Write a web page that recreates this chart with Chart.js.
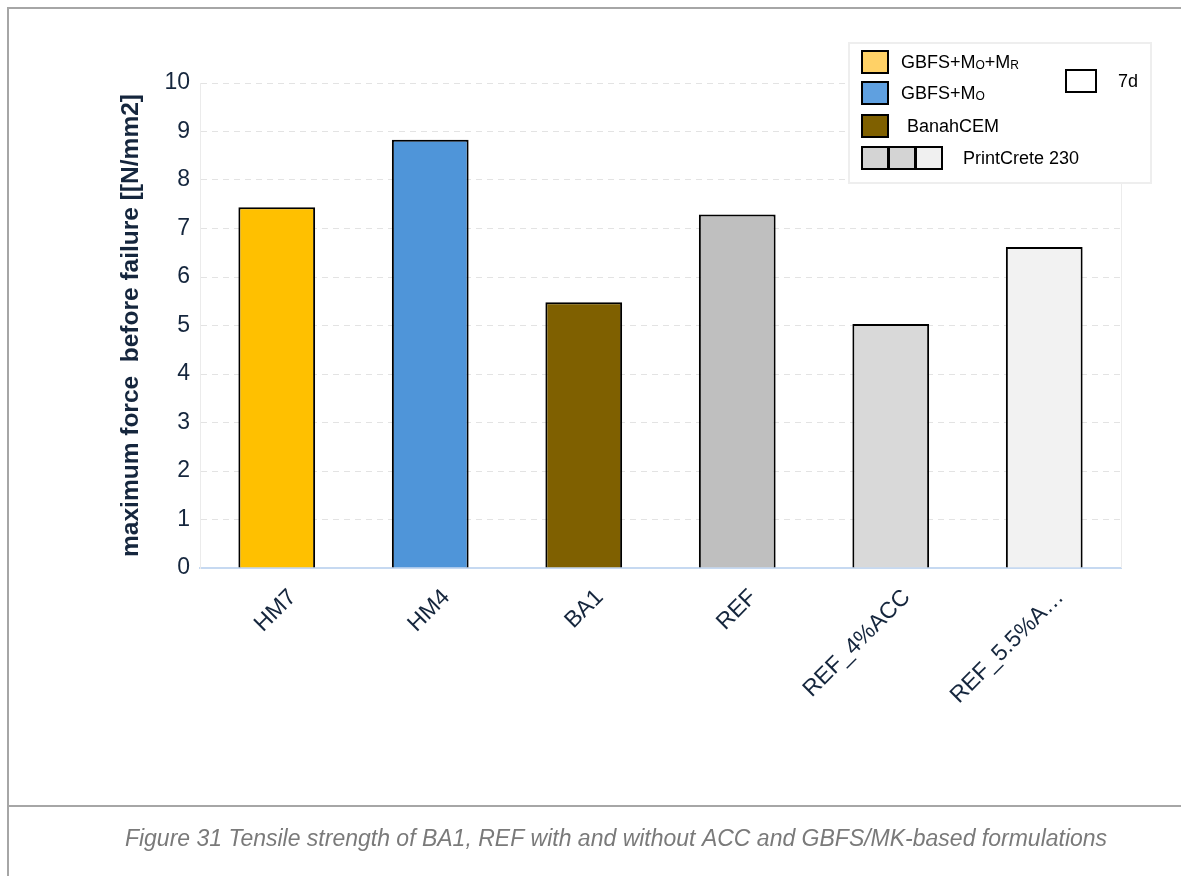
<!DOCTYPE html>
<html>
<head>
<meta charset="utf-8">
<script src="https://cdn.jsdelivr.net/npm/chart.js@4/dist/chart.umd.min.js"></script>
<style>
  html, body { margin: 0; padding: 0; background: #fff; }
  #wrap { position: relative; width: 1181px; height: 876px; }
  canvas { display: block; }
</style>
</head>
<body>
<div id="wrap"><canvas id="chart" width="1181" height="876"></canvas></div>
<script>
// tensile strength after 7 days, one bar per mix
const categories = ['HM7', 'HM4', 'BA1', 'REF', 'REF_4%ACC', 'REF_5.5%A\u2026'];
const strength7d = [7.44, 8.83, 5.48, 7.29, 5.03, 6.62];
const barColors = ['#ffc000', '#4f95d9', '#7f6000', '#bfbfbf', '#d9d9d9', '#f2f2f2'];
const yMin = 0, yMax = 10, yStep = 1;

const FONT = '"Liberation Sans", Arial, sans-serif';
const NAVY = '#15263d';

// legend entries (swatches + labels with subscripts)
const legendRows = [
  { swatches: ['#ffd166'], parts: [['GBFS+M', 0], ['O', 1], ['+M', 0], ['R', 1]], y: 62, tx: 901 },
  { swatches: ['#5fa0e0'], parts: [['GBFS+M', 0], ['O', 1]], y: 93, tx: 901 },
  { swatches: ['#7f6000'], parts: [['BanahCEM', 0]], y: 126, tx: 907 },
  { swatches: ['#d4d4d4', '#d4d4d4', '#f0f0f0'], parts: [['PrintCrete 230', 0]], y: 158, tx: 963 },
];

const framePlugin = {
  id: 'frame',
  beforeDraw(chart) {
    const { ctx } = chart;
    ctx.save();
    ctx.fillStyle = '#fff';
    ctx.fillRect(0, 0, chart.width, chart.height);
    ctx.restore();
  },
  beforeDatasetsDraw(chart) {
    // light border on the right of the plot area
    const { ctx, chartArea: a } = chart;
    ctx.save();
    ctx.strokeStyle = '#ececec';
    ctx.lineWidth = 1;
    ctx.beginPath();
    ctx.moveTo(a.right + 0.5, a.top);
    ctx.lineTo(a.right + 0.5, a.bottom);
    ctx.stroke();
    ctx.restore();
  },
  afterDraw(chart) {
    const { ctx } = chart;
    ctx.save();
    // page frame
    ctx.strokeStyle = '#a6a6a6';
    ctx.lineWidth = 2;
    ctx.beginPath();
    ctx.moveTo(1181, 8);
    ctx.lineTo(8, 8);
    ctx.lineTo(8, 876);
    ctx.moveTo(8, 806);
    ctx.lineTo(1181, 806);
    ctx.stroke();

    // caption
    ctx.fillStyle = '#7a7a7a';
    ctx.font = 'italic 23px ' + FONT;
    ctx.textAlign = 'center';
    ctx.textBaseline = 'middle';
    ctx.fillText('Figure 31 Tensile strength of BA1, REF with and without ACC and GBFS/MK-based formulations', 616, 840);

    // legend box
    ctx.fillStyle = '#fff';
    ctx.fillRect(849, 43, 302, 140);
    ctx.strokeStyle = '#eeeeee';
    ctx.lineWidth = 2;
    ctx.strokeRect(849, 43, 302, 140);

    ctx.textAlign = 'left';
    ctx.textBaseline = 'alphabetic';
    ctx.lineWidth = 2;
    legendRows.forEach(row => {
      row.swatches.forEach((col, k) => {
        ctx.fillStyle = col;
        ctx.fillRect(862 + k * 27, row.y - 11, 26, 22);
        ctx.strokeStyle = '#000';
        ctx.strokeRect(862 + k * 27, row.y - 11, 26, 22);
      });
      let x = row.tx;
      row.parts.forEach(([txt, sub]) => {
        ctx.font = (sub ? '12px ' : '18px ') + FONT;
        ctx.fillStyle = '#000';
        ctx.fillText(txt, x, row.y + (sub ? 7 : 6));
        x += ctx.measureText(txt).width;
      });
    });
    // 7d entry
    ctx.fillStyle = '#fff';
    ctx.fillRect(1066, 70, 30, 22);
    ctx.strokeStyle = '#000';
    ctx.strokeRect(1066, 70, 30, 22);
    ctx.fillStyle = '#000';
    ctx.font = '18px ' + FONT;
    ctx.fillText('7d', 1118, 87);
    ctx.restore();
  }
};

new Chart(document.getElementById('chart'), {
  type: 'bar',
  plugins: [framePlugin],
  data: {
    labels: categories,
    datasets: [{
      label: '7d',
      data: strength7d,
      backgroundColor: barColors,
      borderColor: '#000',
      borderWidth: 2,
      categoryPercentage: 1,
      barPercentage: 0.5,
    }]
  },
  options: {
    responsive: false,
    animation: false,
    events: [],
    layout: { padding: { left: 113, right: 60, top: 83, bottom: 108 } },
    plugins: { legend: { display: false }, tooltip: { enabled: false } },
    scales: {
      x: {
        grid: { display: false },
        border: { color: '#c6d9f1', width: 2 },
        ticks: {
          color: NAVY,
          font: { family: FONT, size: 23 },
          minRotation: 45,
          maxRotation: 45,
          autoSkip: false,
          padding: 8,
          labelOffset: 16,
        },
        afterFit(scale) { scale.height = 200; },
      },
      y: {
        min: yMin,
        max: yMax,
        grid: { color: '#e3e3e3', drawTicks: false, lineWidth: 1 },
        border: { color: '#ebebeb', width: 1, dash: [6, 5] },
        ticks: {
          stepSize: yStep,
          color: NAVY,
          padding: 10,
          font: { family: FONT, size: 23 },
        },
        title: {
          display: true,
          text: 'maximum force  before failure [[N/mm2]',
          color: NAVY,
          font: { family: FONT, size: 24.5, weight: 'bold' },
          padding: { top: 4, bottom: 4 },
        },
        afterFit(scale) { scale.width = 87; },
      }
    }
  }
});
</script>
</body>
</html>
